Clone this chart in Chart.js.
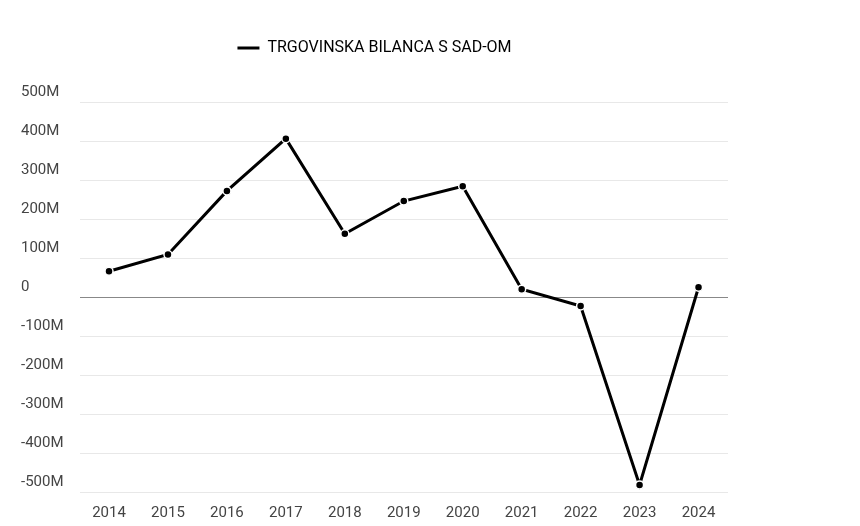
<!DOCTYPE html>
<html>
<head>
<meta charset="utf-8">
<script src="https://cdn.jsdelivr.net/npm/chart.js@4"></script>
<style>
  html, body { margin: 0; padding: 0; background: #fff; }
  #wrap { width: 860px; height: 526px; }
</style>
</head>
<body>
<div id="wrap"><canvas id="c"></canvas></div>
<script>
// data
const years = ['2014', '2015', '2016', '2017', '2018', '2019', '2020', '2021', '2022', '2023', '2024'];
const balance = [66e6, 109e6, 272e6, 406e6, 162e6, 246e6, 284e6, 20e6, -23e6, -482e6, 25e6];
const seriesName = 'TRGOVINSKA BILANCA S SAD-OM';

// extra room under the legend
const legendSpace = {
  id: 'legendSpace',
  beforeInit(chart) {
    const fit = chart.legend.fit;
    chart.legend.fit = function () {
      fit.bind(chart.legend)();
      this.height += 36;
    };
  }
};

const ctx = document.getElementById('c').getContext('2d');
new Chart(ctx, {
  type: 'line',
  data: {
    labels: years,
    datasets: [{
      label: seriesName,
      data: balance,
      borderColor: '#000',
      backgroundColor: '#000',
      borderWidth: 3,
      tension: 0,
      pointRadius: 4,
      pointBackgroundColor: '#000',
      pointBorderColor: '#fff',
      pointBorderWidth: 1.5
    }]
  },
  options: {
    responsive: true,
    maintainAspectRatio: false,
    animation: false,
    layout: { padding: { left: 21, right: 132, top: 20, bottom: 0 } },
    scales: {
      x: {
        offset: true,
        grid: { display: false },
        border: { display: false },
        ticks: { color: '#444', font: { family: 'Roboto', size: 15 }, padding: 4 }
      },
      y: {
        min: -500e6,
        max: 500e6,
        border: { display: false },
        grid: {
          color: ctx => ctx.tick && ctx.tick.value === 0 ? '#888' : '#e8e8e8',
          lineWidth: 1,
          drawTicks: false
        },
        ticks: {
          stepSize: 100e6,
          crossAlign: 'far',
          labelOffset: -10,
          padding: 8,
          color: '#444',
          font: { family: 'Roboto', size: 15 },
          callback: v => v === 0 ? '0' : (v / 1e6) + 'M'
        }
      }
    },
    plugins: {
      legend: {
        labels: {
          color: '#444',
          font: { family: 'Roboto', size: 16 },
          boxWidth: 22,
          boxHeight: 3,
          padding: 20,
          generateLabels: chart => [{
            text: seriesName,
            fillStyle: '#000',
            strokeStyle: '#000',
            lineWidth: 0,
            datasetIndex: 0
          }]
        }
      },
      tooltip: { enabled: false }
    }
  },
  plugins: [legendSpace]
});
</script>
</body>
</html>
